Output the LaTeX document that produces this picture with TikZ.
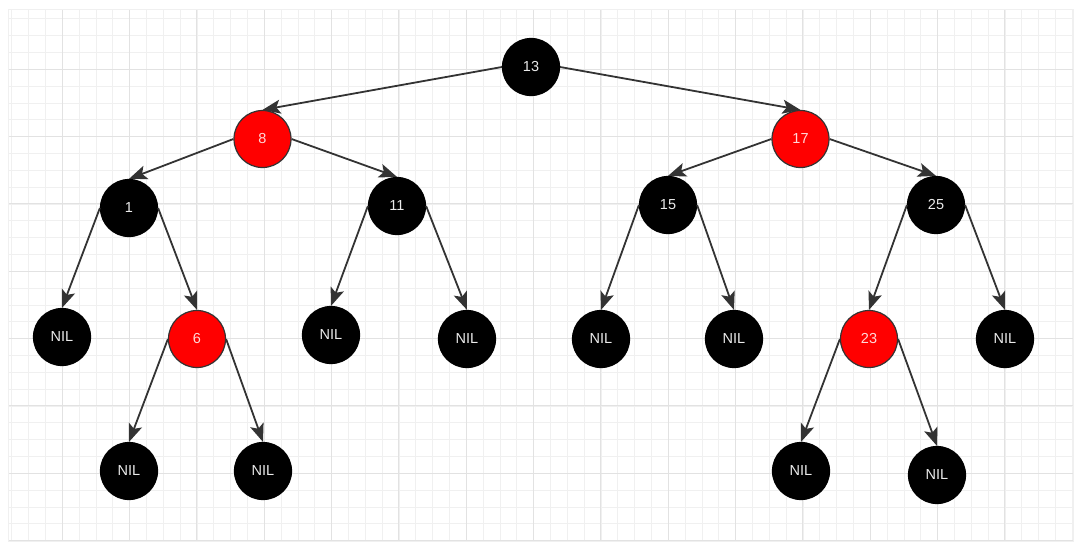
\documentclass[tikz,border=0pt]{standalone}
\usepackage{fontspec}
\setmainfont{Liberation Sans}
\usetikzlibrary{arrows.meta, positioning}
\definecolor{gridminor}{HTML}{F0F0F0}
\definecolor{gridmajor}{HTML}{E2E2E2}
\definecolor{edgegray}{HTML}{333333}
\definecolor{rbred}{HTML}{FF0000}
\definecolor{redtext}{HTML}{FFD8D8}
\tikzset{
    blacknode/.style={circle, draw=black, line width=1.2pt, fill=black, minimum size=57pt, inner sep=0pt, text=white!92!black, font=\fontsize{14.5}{16}\selectfont},
    rednode/.style={blacknode, draw=edgegray, fill=rbred, text=redtext},
    arrow/.style={-{Stealth[length=18pt, width=14pt, inset=4pt]}, line width=1.8pt, edgegray}
}

\begin{document}
\begin{tikzpicture}[x=1pt, y=-1pt, on grid]
        \useasboundingbox (0,0) rectangle (1080,558);
        % grid paper
        \begin{scope}
            \clip (8,9) rectangle (1073,541);
            \foreach \k in {-3,...,60}
                \draw [gridminor, line width=0.8pt] ({62.3+16.833*\k},9) -- ({62.3+16.833*\k},541);
            \foreach \k in {-3,...,28}
                \draw [gridminor, line width=0.8pt] (8,{69.3+16.833*\k}) -- (1073,{69.3+16.833*\k});
            \foreach \k in {0,...,14}
                \draw [gridmajor, line width=1pt] ({62.3+67.33*\k},9) -- ({62.3+67.33*\k},541);
            \foreach \k in {0,...,7}
                \draw [gridmajor, line width=1pt] (8,{69.3+67.33*\k}) -- (1073,{69.3+67.33*\k});
        \end{scope}
        \draw [gridminor, line width=0.8pt] (8,9) rectangle (1073,541);

        % tree
        \node [blacknode] (n13) at (531,67) {13};
        \node [rednode, below left=72pt and 268.5pt of n13] (n8) {8};
        \node [rednode, below right=72pt and 269.5pt of n13] (n17) {17};
        \node [blacknode, below left=69pt and 133.5pt of n8] (n1) {1};
        \node [blacknode, below right=67pt and 134.5pt of n8] (n11) {11};
        \node [blacknode, below left=66pt and 132.5pt of n17] (n15) {15};
        \node [blacknode, below right=66pt and 135.5pt of n17] (n25) {25};
        \node [blacknode, below left=129pt and 67pt of n1] (nilA) {NIL};
        \node [rednode, below right=131pt and 68pt of n1] (n6) {6};
        \node [blacknode, below left=129pt and 66pt of n11] (nilB) {NIL};
        \node [blacknode, below right=133pt and 70pt of n11] (nilC) {NIL};
        \node [blacknode, below left=134pt and 67pt of n15] (nilD) {NIL};
        \node [blacknode, below right=134pt and 66pt of n15] (nilE) {NIL};
        \node [rednode, below left=134pt and 67pt of n25] (n23) {23};
        \node [blacknode, below right=134pt and 69pt of n25] (nilF) {NIL};
        \node [blacknode, below left=132pt and 68pt of n6] (nilG) {NIL};
        \node [blacknode, below right=132pt and 66pt of n6] (nilH) {NIL};
        \node [blacknode, below left=132pt and 68pt of n23] (nilI) {NIL};
        \node [blacknode, below right=136pt and 68pt of n23] (nilJ) {NIL};

        \draw [arrow] (n13.west) -- (n8.north);
        \draw [arrow] (n13.east) -- (n17.north);
        \draw [arrow] (n8.west) -- (n1.north);
        \draw [arrow] (n8.east) -- (n11.north);
        \draw [arrow] (n17.west) -- (n15.north);
        \draw [arrow] (n17.east) -- (n25.north);
        \draw [arrow] (n1.west) -- (nilA.north);
        \draw [arrow] (n1.east) -- (n6.north);
        \draw [arrow] (n11.west) -- (nilB.north);
        \draw [arrow] (n11.east) -- (nilC.north);
        \draw [arrow] (n15.west) -- (nilD.north);
        \draw [arrow] (n15.east) -- (nilE.north);
        \draw [arrow] (n25.west) -- (n23.north);
        \draw [arrow] (n25.east) -- (nilF.north);
        \draw [arrow] (n6.west) -- (nilG.north);
        \draw [arrow] (n6.east) -- (nilH.north);
        \draw [arrow] (n23.west) -- (nilI.north);
        \draw [arrow] (n23.east) -- (nilJ.north);
    \end{tikzpicture}
\end{document}
